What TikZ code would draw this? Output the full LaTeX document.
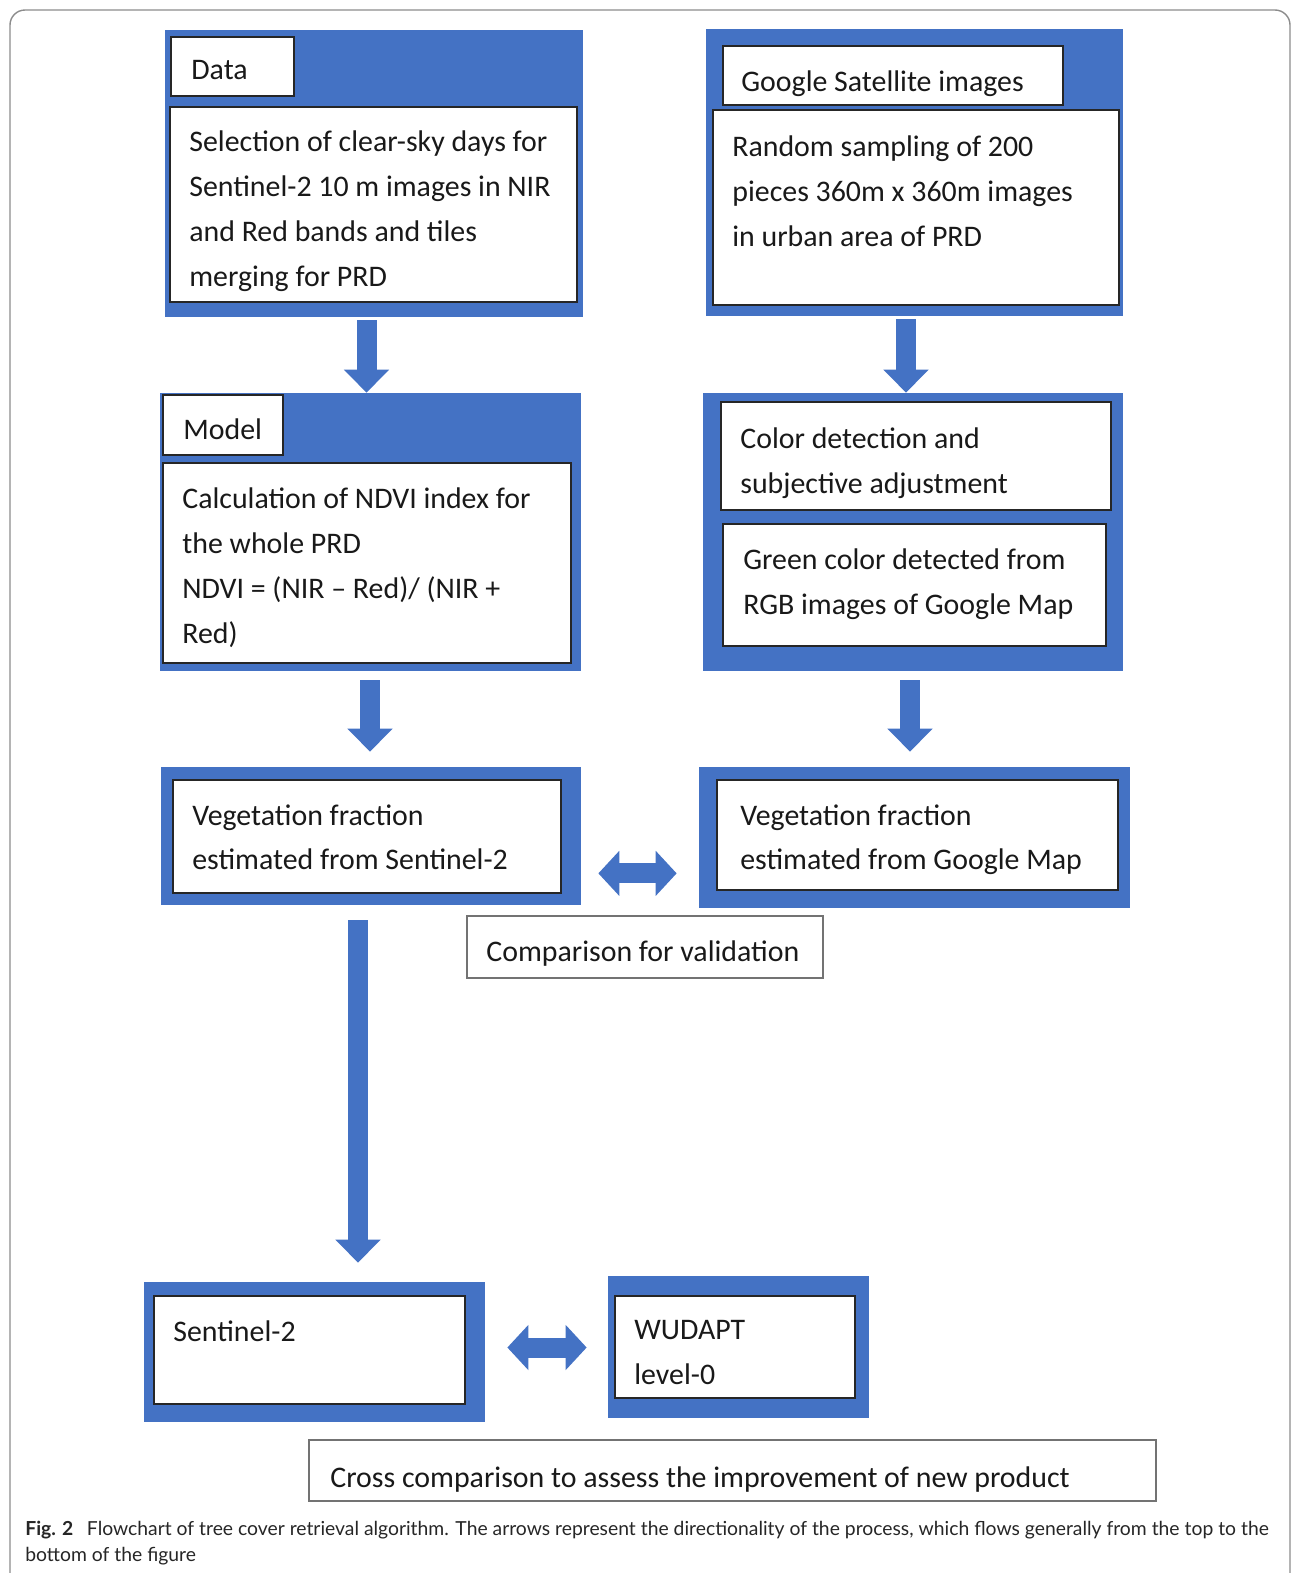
\documentclass[tikz,border=0pt]{standalone}
\usepackage{fontspec}
\setmainfont{Carlito}
\newfontfamily\capfont{Lato}
\usetikzlibrary{arrows.meta, fit, positioning}
\definecolor{panelblue}{HTML}{4472C4}

\begin{document}
\begin{tikzpicture}[x=0.02cm, y=-0.02cm,
	panel/.style={fill=panelblue, draw=panelblue, inner sep=0pt},
	wbox/.style={fill=white, draw=black!85, line width=1.2pt, inner sep=0pt},
	gbox/.style={fill=white, draw=black!55, line width=1.2pt, inner sep=0pt},
	txt/.style={inner sep=0pt, align=left, anchor=north west, text=black!90, font=\fontsize{17}{25.6}\selectfont},
	flow/.style={draw=panelblue, line width=0.4cm, -{Triangle[length=0.46cm,width=0.88cm]}},
	both/.style={draw=panelblue, line width=0.4cm, {Triangle[length=0.42cm,width=0.88cm]}-{Triangle[length=0.42cm,width=0.88cm]}}]
	\useasboundingbox (0,0) rectangle (1295,1573);
	
	%frame
	\draw[black!45, line width=0.8pt, rounded corners=0.3cm] (10,1620) -- (10,10) -- (1290,10) -- (1290,1620);
	
	%data
	\node[panel, fit={(165,30) (582,316)}] (datap) {};
	\node[wbox, fit={(171,37) (294,96)}] (datah) {};
	\node[wbox, fit={(170,107) (577,302)}] (datab) {};
	\node[txt] (datahtx) at (191,60) {Data};
	\node[txt] (databtx) at (189,130) {Selection of clear-sky days for\\Sentinel-2 10 m images in NIR\\and Red bands and tiles\\merging for PRD};
	
	%google
	\node[panel, fit={(706,29) (1122,315)}] (googp) {};
	\node[wbox, fit={(723,46) (1063,105)}] (googh) {};
	\node[wbox, fit={(713,110) (1119,305)}] (googb) {};
	\node[txt] (googhtx) at (741,70) {Google Satellite images};
	\node[txt] (googbtx) at (732,135) {Random sampling of 200\\pieces 360m x 360m images\\in urban area of PRD};
	
	%model
	\node[panel, fit={(160,393) (580,670)}] (modelp) {};
	\node[wbox, fit={(163,395) (283,455)}] (modelh) {};
	\node[wbox, fit={(163,463) (571,663)}] (modelb) {};
	\node[txt] (modelhtx) at (183,418) {Model};
	\node[txt] (modelbtx) at (182,487) {Calculation of NDVI index for\\the whole PRD\\NDVI = (NIR -- Red)/ (NIR +\\Red)};
	
	%color detection
	\node[panel, fit={(703,393) (1122,670)}] (gcolp) {};
	\node[wbox, fit={(721,402) (1111,510)}] (gcola) {};
	\node[wbox, fit={(723,524) (1106,646)}] (gcolb) {};
	\node[txt] (gcolatx) at (740,427) {Color detection and\\subjective adjustment};
	\node[txt] (gcolbtx) at (743,548) {Green color detected from\\RGB images of Google Map};
	
	%vegetation fraction
	\node[panel, fit={(161,767) (580,904)}] (veg1p) {};
	\node[wbox, fit={(173,780) (561,893)}] (veg1b) {};
	\node[txt] (veg1tx) at (192,804) {Vegetation fraction\\estimated from Sentinel-2};
	\node[panel, fit={(699,767) (1129,907)}] (veg2p) {};
	\node[wbox, fit={(717,780) (1118,890)}] (veg2b) {};
	\node[txt] (veg2tx) at (740,804) {Vegetation fraction\\estimated from Google Map};
	\node[gbox, fit={(467,916) (823,978)}] (valid) {};
	\node[txt] (validtx) at (486,940) {Comparison for validation};
	
	%bottom row
	\node[panel, fit={(144,1282) (484,1421)}] (sentp) {};
	\node[wbox, fit={(154,1296) (465,1404)}] (sentb) {};
	\node[txt] (senttx) at (173,1320) {Sentinel-2};
	\node[panel, fit={(608,1276) (868,1417)}] (wudp) {};
	\node[wbox, fit={(615,1296) (855,1398)}] (wudb) {};
	\node[txt] (wudtx) at (634,1320) {WUDAPT\\level-0};
	\node[gbox, fit={(309,1440) (1156,1501)}] (cross) {};
	\node[txt] (crosstx) at (330,1466) {Cross comparison to assess the improvement of new product};
	
	%arrows
	\draw[flow, shorten <=0.08cm] ([xshift=-0.14cm]datap.south) -- ([xshift=-0.14cm]datap.south |- modelp.north);
	\draw[flow, shorten <=0.08cm] ([xshift=-0.16cm]googp.south) -- ([xshift=-0.16cm]googp.south |- gcolp.north);
	\draw[flow, shorten <=0.2cm, shorten >=0.3cm] (modelp.south) -- (modelp.south |- veg1p.north);
	\draw[flow, shorten <=0.2cm, shorten >=0.3cm] ([xshift=-0.05cm]gcolp.south) -- ([xshift=-0.05cm]gcolp.south |- veg2p.north);
	\draw[flow, shorten <=0.32cm, shorten >=0.38cm] ([xshift=-0.25cm]veg1p.south) -- ([xshift=-0.25cm]veg1p.south |- sentp.north);
	\draw[both, shorten <=0.36cm, shorten >=0.44cm] ([yshift=0.62cm]veg1p.south east) -- ([yshift=0.62cm]veg1p.south east -| veg2p.west);
	\draw[both, shorten <=0.46cm, shorten >=0.42cm] ([yshift=0.08cm]sentp.east) -- ([yshift=0.08cm]sentp.east -| wudp.west);
	
	%caption
	\node[inner sep=0pt, anchor=north west, align=left, text=black!85, font=\capfont\fontsize{11}{14.7}\selectfont] (caption) at (25,1521) {\textbf{Fig. 2}\hspace{0.7em}Flowchart of tree cover retrieval algorithm. The arrows represent the directionality of the process, which flows generally from the top to the\\bottom of the figure};
\end{tikzpicture}
\end{document}
